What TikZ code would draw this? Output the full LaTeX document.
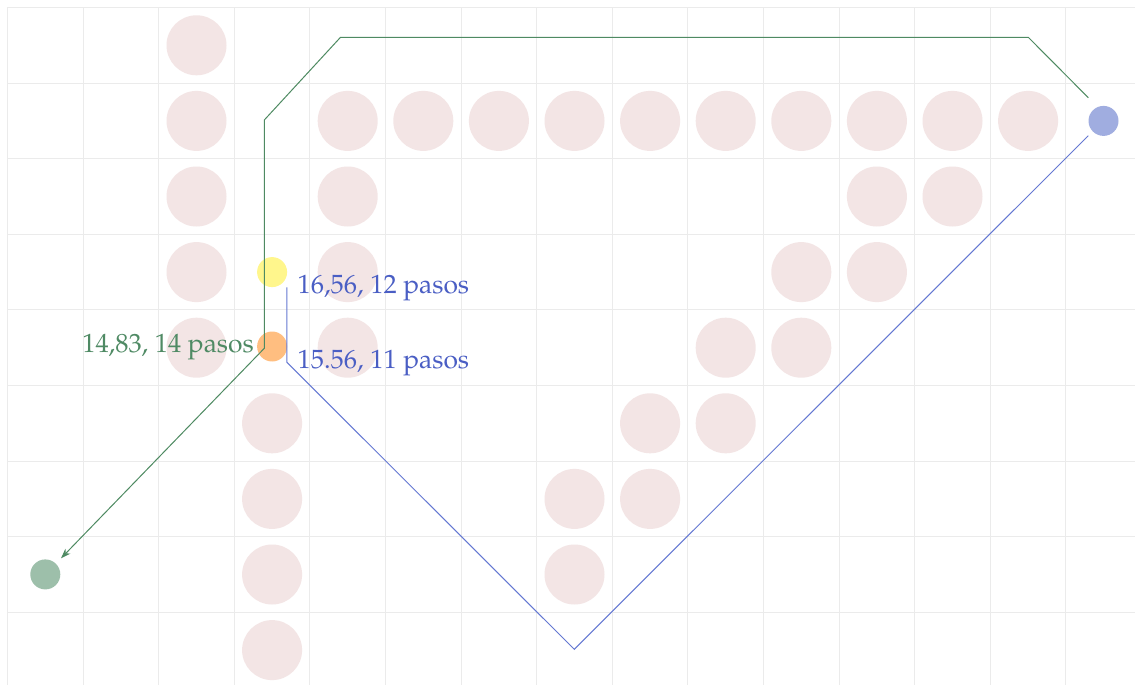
\documentclass[tikz,border=0pt]{standalone}
\usepackage{fontspec}
\setmainfont{TeX Gyre Pagella}
\usetikzlibrary{arrows.meta}
\definecolor{gridc}{HTML}{EBEBEB}
\definecolor{obstc}{HTML}{F3E5E5}
\definecolor{yelc}{HTML}{FFF68C}
\definecolor{orac}{HTML}{FFBE80}
\definecolor{bluc}{HTML}{A0ADE0}
\definecolor{grnc}{HTML}{9DBFAA}
\definecolor{blueline}{HTML}{6478D2}
\definecolor{bluetext}{HTML}{4A5EC4}
\definecolor{greenline}{HTML}{4E8A62}
\definecolor{greentext}{HTML}{4F8A64}
\tikzset{
  gridline/.style={draw=gridc, line width=1.1pt},
  obst/.style={circle, fill=obstc, minimum size=60pt, inner sep=0pt},
  agent/.style={circle, minimum size=30pt, inner sep=0pt},
  gpath/.style={draw=greenline, line width=1pt},
  bpath/.style={draw=blueline, line width=1pt},
  lbl/.style={font=\fontsize{26.4}{31}\selectfont, inner sep=0pt}
}
\begin{document}
\begin{tikzpicture}[x=1pt,y=-1pt]
\useasboundingbox (0,0) rectangle (1135,685);
\fill[white] (0,0) rectangle (1135,685);
\foreach \k in {0,...,14} \draw[gridline] ({7.5+75.6*\k},7.5) -- ({7.5+75.6*\k},685);
\foreach \k in {0,...,8} \draw[gridline] (7.5,{7.5+75.6*\k}) -- (1135,{7.5+75.6*\k});
\foreach \c/\r in {2/0, 2/1, 4/1, 5/1, 6/1, 7/1, 8/1, 9/1, 10/1, 11/1, 12/1, 13/1,
  2/2, 4/2, 11/2, 12/2, 2/3, 4/3, 10/3, 11/3, 2/4, 4/4, 9/4, 10/4,
  3/5, 8/5, 9/5, 3/6, 7/6, 8/6, 3/7, 7/7, 3/8}
  \node[obst] (o-\c-\r) at ({45.3+75.6*\c},{45.3+75.6*\r}) {};
\node[agent, fill=yelc] (yel) at (272.1,272.1) {};
\node[agent, fill=orac] (ora) at (272.1,346.5) {};
\node[agent, fill=bluc] (blu) at (1103.5,120.9) {};
\node[agent, fill=grnc] (grn) at (45.3,574.4) {};
% green path
\coordinate (gA) at (1088.3,97.7);
\coordinate (gB) at (1028.3,37.3);
\coordinate (gC) at (340.5,37.3);
\coordinate (gD) at (264.3,120);
\coordinate (gE) at (264.3,348.3);
\coordinate (gF) at (61,558.3);
\draw[gpath, -{Stealth[length=10pt,width=7pt]}] (gA) -- (gB) -- (gC) -- (gD) -- (gE) -- (gF);
% blue path
\coordinate (bA) at (286.9,287.3);
\coordinate (bB) at (286.9,362.3);
\coordinate (bC) at (574.3,649.3);
\coordinate (bD) at (1088.3,135.7);
\draw[bpath] (bA) -- (bB) -- (bC) -- (bD);
% labels
\node[lbl, text=bluetext, anchor=base west] (l1) at (297.5,293.3) {16,56, 12 pasos};
\node[lbl, text=bluetext, anchor=base west] (l2) at (297.5,368.3) {15.56, 11 pasos};
\node[lbl, text=greentext, anchor=base east] (l3) at (254,352.3) {14,83, 14 pasos};
\end{tikzpicture}
\end{document}
